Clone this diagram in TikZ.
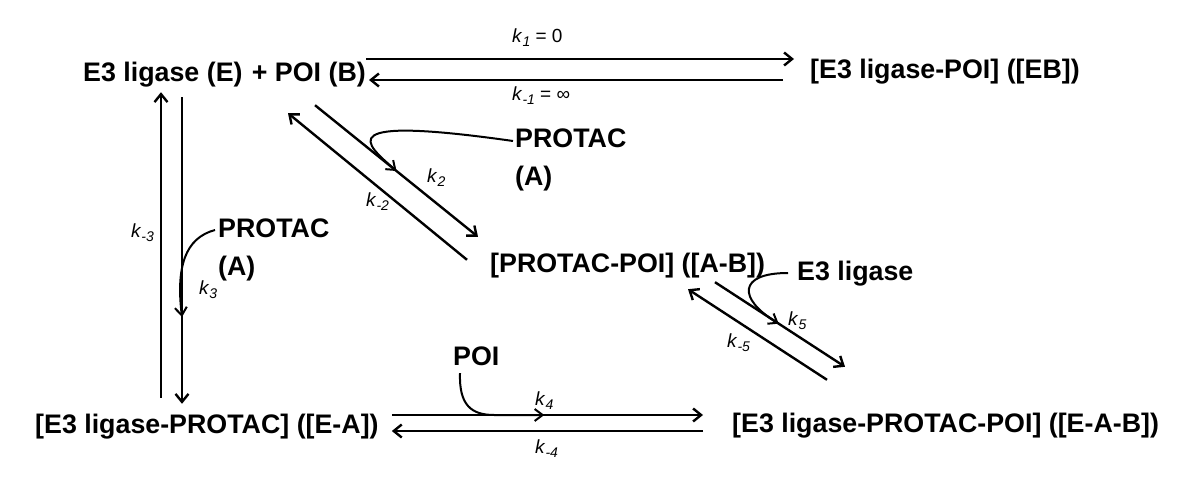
\documentclass[tikz,border=0pt]{standalone}
\usepackage{fontspec}
\setmainfont{Liberation Sans}
\usetikzlibrary{arrows.meta, calc}
\newcommand{\ksub}[1]{\textit{k}\raisebox{-4pt}{\fontsize{14}{16}\selectfont\textit{#1}}}
\tikzset{
  species/.style={font=\fontsize{26.8}{32}\selectfont\bfseries, inner sep=0pt, text height=19.5pt, text depth=5.5pt},
  reactant/.style={font=\fontsize{26.8}{38}\selectfont\bfseries, inner sep=0pt, align=left},
  rate/.style={font=\fontsize{19}{22}\selectfont, inner sep=0pt},
  rxn/.style={line width=2.4pt, -{Straight Barb[length=8pt, width=13pt]}},
  feed/.style={line width=2pt, -{Straight Barb[length=8pt, width=12pt]}},
}
\begin{document}
\begin{tikzpicture}[x=1pt, y=-1pt]
  \useasboundingbox (0,0) rectangle (1199,489);

  % Species
  \node[species, anchor=base west] (E) at (83,82) {E3 ligase (E)};
  \node[species, anchor=base east] (B) at (366,82) {+ POI (B)};
  \node[species, anchor=base west] (EB) at (810,79) {[E3 ligase-POI] ([EB])};
  \node[species, anchor=base west] (AB) at (490,272) {[PROTAC-POI] ([A-B])};
  \node[species, anchor=base west] (EA) at (35,433) {[E3 ligase-PROTAC] ([E-A])};
  \node[species, anchor=base west] (EAB) at (732,432) {[E3 ligase-PROTAC-POI] ([E-A-B])};

  % Added partners
  \node[reactant, anchor=west] (protacTop) at (515,160) {PROTAC\\(A)};
  \node[reactant, anchor=west] (protacLeft) at (218,250) {PROTAC\\(A)};
  \node[species, anchor=base west] (ligaseIn) at (797,280) {E3 ligase};
  \node[species, anchor=base west] (poiIn) at (453,365) {POI};

  % Rate constants
  \node[rate, anchor=base west] (k1) at (512,43) {\ksub{1} = 0};
  \node[rate, anchor=base west] (km1) at (512,101) {\ksub{-1} = ∞};
  \node[rate, anchor=base west] (k2) at (427,183) {\ksub{2}};
  \node[rate, anchor=base west] (km2) at (366,207) {\ksub{-2}};
  \node[rate, anchor=base west] (km3) at (131,237) {\ksub{-3}};
  \node[rate, anchor=base west] (k3) at (199,294) {\ksub{3}};
  \node[rate, anchor=base west] (k5) at (788,325) {\ksub{5}};
  \node[rate, anchor=base west] (km5) at (727,347) {\ksub{-5}};
  \node[rate, anchor=base west] (k4) at (535,405) {\ksub{4}};
  \node[rate, anchor=base west] (km4) at (535,453) {\ksub{-4}};

  % Equilibria
  \draw[rxn] ($(B.east)+(0,-16)$) -- ($(EB.west)+(-16,-13)$);
  \draw[rxn] ($(EB.west)+(-27,8)$) -- ($(B.east)+(3,5)$);
  \draw[rxn] ($(EA.north west)+(126,-15.5)$) -- ($(E.south west)+(78,4.5)$);
  \draw[rxn] ($(E.south west)+(99,9.5)$) -- ($(EA.north west)+(147,-9.5)$) coordinate[pos=0.717] (k3join);
  \draw[rxn] ($(B.south east)+(-51,17.5)$) -- ($(AB.north west)+(-12,-15.5)$) coordinate[pos=0.5] (k2join);
  \draw[rxn] ($(AB.north west)+(-23,7.5)$) -- ($(B.south east)+(-78,25.5)$);
  \draw[rxn] ($(AB.south west)+(225,4.5)$) -- ($(EAB.north west)+(113,-45.5)$) coordinate[pos=0.49] (k5join);
  \draw[rxn] ($(EAB.north west)+(95,-32.5)$) -- ($(AB.south west)+(198,11.5)$);
  \draw[rxn] ($(EA.east)+(13,-11)$) -- ($(EAB.west)+(-29,-10)$) coordinate[pos=0.49] (k4join);
  \draw[rxn] ($(EAB.west)+(-29,6)$) -- ($(EA.east)+(13,5)$);

  % Partners joining
  \draw[feed] ($(protacTop.west)+(-2,-19)$) .. controls +(-183,-26) and +(-32,-28) .. (k2join);
  \draw[feed] ($(protacLeft.west)+(-3,-20)$) .. controls +(-30,8) and +(-6,-50) .. (k3join);
  \draw[feed] ($(ligaseIn.base west)+(-9,-7)$) .. controls +(-50,0) and +(-41,-25) .. (k5join);
  \draw[feed] ($(poiIn.south west)+(7,2.5)$) .. controls +(-1,32) and +(-23,0) .. ($(k4join)+(-50,0)$) -- (k4join);
\end{tikzpicture}
\end{document}
